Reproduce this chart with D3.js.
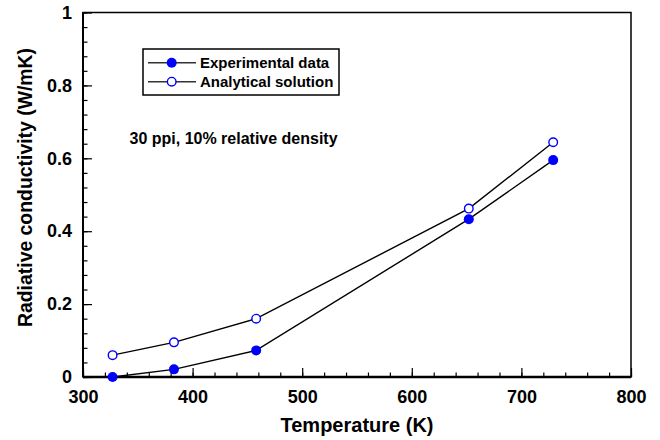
<!DOCTYPE html>
<html><head><meta charset="utf-8">
<script src="https://cdn.jsdelivr.net/npm/d3@7"></script>
<style>body{margin:0;background:#fff}svg{display:block;font-family:"Liberation Sans",Arial,Helvetica,sans-serif;font-weight:bold}</style>
</head><body><div id="chart"></div>
<script>
const temperatures = [327, 383, 458, 652, 729];
const experimental = [0.0, 0.021, 0.073, 0.433, 0.595];
const analytical = [0.060, 0.095, 0.160, 0.462, 0.644];
const xTicks = [300, 400, 500, 600, 700, 800];
const yTicks = [0, 0.2, 0.4, 0.6, 0.8, 1];
const yTickLabels = ["0", "0.2", "0.4", "0.6", "0.8", "1"];
const seriesNames = ["Experimental data", "Analytical solution"];
const annotation = "30 ppi, 10% relative density";

const W = 660, H = 440;
const m = {left: 83, right: 29, top: 12.5, bottom: 63};
const svg = d3.select("#chart").append("svg").attr("width", W).attr("height", H);
const x = d3.scaleLinear().domain([300, 800]).range([m.left, W - m.right]);
const y = d3.scaleLinear().domain([0, 1]).range([H - m.bottom, m.top]);

// frame
svg.append("rect").attr("x", m.left).attr("y", m.top)
  .attr("width", x(800) - x(300)).attr("height", y(0) - y(1))
  .attr("fill", "none").attr("stroke", "#000").attr("stroke-width", 1.5);

const styleText = g => g.selectAll("text").attr("font-size", 18).attr("font-weight", "bold")
  .attr("font-family", "Liberation Sans, Arial, sans-serif").attr("fill", "#000");

// x axis
const xAxisG = svg.append("g").attr("transform", `translate(0,${y(0)})`);
xAxisG.append("g").call(d3.axisBottom(x).tickValues(d3.range(300, 801, 20)).tickSize(-4.5).tickFormat(""))
  .call(g => g.select(".domain").remove())
  .call(g => g.selectAll("line").attr("stroke-width", 1.2));
xAxisG.append("g").call(d3.axisBottom(x).tickValues(xTicks).tickSize(-9).tickPadding(13).tickFormat(d3.format("d")))
  .call(g => g.select(".domain").remove())
  .call(g => g.selectAll("line").attr("stroke-width", 1.2))
  .call(styleText);
xAxisG.append("line").attr("x1", x(300)).attr("x2", x(800)).attr("stroke", "#000").attr("stroke-width", 2.5);

// y axis
const yAxisG = svg.append("g").attr("transform", `translate(${x(300)},0)`);
yAxisG.append("g").call(d3.axisLeft(y).tickValues(d3.range(0, 1.0001, 0.04)).tickSize(-4.5).tickFormat(""))
  .call(g => g.select(".domain").remove())
  .call(g => g.selectAll("line").attr("stroke-width", 1.2));
yAxisG.append("g").call(d3.axisLeft(y).tickValues(yTicks).tickSize(-9).tickPadding(11).tickFormat((d, i) => yTickLabels[i]))
  .call(g => g.select(".domain").remove())
  .call(g => g.selectAll("line").attr("stroke-width", 1.2))
  .call(styleText);
yAxisG.append("line").attr("y1", y(0)).attr("y2", y(1)).attr("stroke", "#000").attr("stroke-width", 2);

// axis titles
svg.append("text").attr("x", (x(300) + x(800)) / 2).attr("y", 431.5)
  .attr("text-anchor", "middle").attr("font-size", 20).text("Temperature (K)");
svg.append("text").attr("transform", `translate(32,187.5) rotate(-90)`)
  .attr("text-anchor", "middle").attr("font-size", 19.4).text("Radiative conductivity (W/mK)");

// lines
const line = d3.line().x((d, i) => x(temperatures[i])).y(d => y(d));
[experimental, analytical].forEach(s => {
  svg.append("path").datum(s).attr("d", line).attr("fill", "none").attr("stroke", "#000").attr("stroke-width", 1.4);
});
svg.selectAll("circle.exp").data(experimental).join("circle").attr("class", "exp")
  .attr("cx", (d, i) => x(temperatures[i])).attr("cy", d => y(d)).attr("r", 5).attr("fill", "#0000ff");
svg.selectAll("circle.ana").data(analytical).join("circle").attr("class", "ana")
  .attr("cx", (d, i) => x(temperatures[i])).attr("cy", d => y(d)).attr("r", 4.3)
  .attr("fill", "#fff").attr("stroke", "#0000ff").attr("stroke-width", 1.4);

// legend
const lg = svg.append("g");
lg.append("rect").attr("x", 143).attr("y", 49).attr("width", 196).attr("height", 46)
  .attr("fill", "#fff").attr("stroke", "#000").attr("stroke-width", 1.5);
seriesNames.forEach((name, i) => {
  const cy = 62.7 + i * 19;
  lg.append("line").attr("x1", 148).attr("x2", 196).attr("y1", cy).attr("y2", cy).attr("stroke", "#333").attr("stroke-width", 1.4);
  if (i === 0) lg.append("circle").attr("cx", 171.7).attr("cy", cy).attr("r", 5).attr("fill", "#0000ff");
  else lg.append("circle").attr("cx", 171.7).attr("cy", cy).attr("r", 4.3).attr("fill", "#fff").attr("stroke", "#0000ff").attr("stroke-width", 1.4);
  lg.append("text").attr("x", 200).attr("y", cy + 5.3).attr("font-size", 15).text(name);
});

svg.append("text").attr("x", 129.5).attr("y", 144).attr("font-size", 16).text(annotation);
</script></body></html>
